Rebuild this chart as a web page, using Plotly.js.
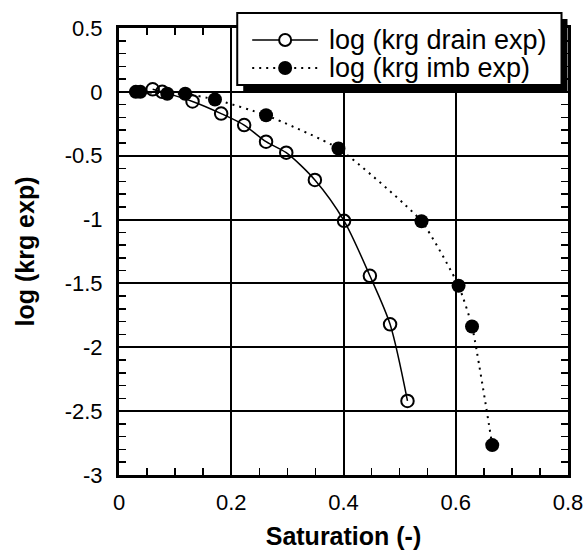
<!DOCTYPE html>
<html>
<head>
<meta charset="utf-8">
<script src="https://cdn.plot.ly/plotly-3.0.1.min.js"></script>
<style>html,body{margin:0;padding:0;background:#fff}#chart{width:585px;height:551px}</style>
</head>
<body>
<div id="chart"></div>
<script>
const drainSat = [0.060, 0.077, 0.131, 0.182, 0.223, 0.262, 0.298, 0.349, 0.401, 0.447, 0.483, 0.514];
const drainLog = [0.02, 0.0, -0.075, -0.17, -0.26, -0.39, -0.476, -0.69, -1.01, -1.44, -1.82, -2.42];
const imbSat = [0.030, 0.038, 0.086, 0.118, 0.171, 0.262, 0.391, 0.539, 0.605, 0.629, 0.665];
const imbLog = [0.0, 0.0, -0.015, -0.015, -0.06, -0.183, -0.444, -1.013, -1.518, -1.837, -2.766];
const seriesNames = ['log (krg drain exp)', 'log (krg imb exp)'];
const xTicks = [0, 0.2, 0.4, 0.6, 0.8];
const yTicks = [0.5, 0, -0.5, -1, -1.5, -2, -2.5, -3];

const FONT = 'Liberation Sans, Arial, sans-serif';
const M = {l: 118.5, r: 16.5, t: 28, b: 76};
const W = 585 - M.l - M.r, H = 551 - M.t - M.b;
const px = (v) => (v - M.l) / W;          // pixel x -> paper x
const py = (v) => (551 - M.b - v) / H;    // pixel y -> paper y

const drainStyle = {line: {color: '#000', width: 1.5}, marker: {symbol: 'circle-open', size: 12.5, color: '#000', line: {width: 2, color: '#000'}}};
const imbStyle = {line: {color: '#000', width: 2, dash: '2px,5px'}, marker: {symbol: 'circle', size: 14, color: '#000'}};

const traces = [
  {x: drainSat, y: drainLog, name: seriesNames[0], type: 'scatter', mode: 'lines+markers',
   line: Object.assign({shape: 'spline', smoothing: 0.8}, drainStyle.line), marker: drainStyle.marker},
  {x: imbSat, y: imbLog, name: seriesNames[1], type: 'scatter', mode: 'lines+markers',
   line: Object.assign({shape: 'spline', smoothing: 0.5}, imbStyle.line), marker: imbStyle.marker}
];

// manual legend (box with drop shadow, sample lines, symbols, labels)
const legRows = [40, 68];
const shapes = [
  {type: 'rect', xref: 'paper', yref: 'paper', layer: 'above', x0: px(243), x1: px(568), y0: py(91), y1: py(19), fillcolor: '#000', line: {width: 0}},
  {type: 'rect', xref: 'paper', yref: 'paper', layer: 'above', x0: px(237), x1: px(562), y0: py(85), y1: py(13), fillcolor: '#fff', line: {width: 2, color: '#000'}},
  {type: 'line', xref: 'paper', yref: 'paper', layer: 'above', x0: px(252), x1: px(318), y0: py(legRows[0]), y1: py(legRows[0]), line: drainStyle.line},
  {type: 'line', xref: 'paper', yref: 'paper', layer: 'above', x0: px(252), x1: px(318), y0: py(legRows[1]), y1: py(legRows[1]), line: imbStyle.line},
  {type: 'circle', xref: 'paper', yref: 'paper', layer: 'above', xsizemode: 'pixel', ysizemode: 'pixel',
   xanchor: px(285), yanchor: py(legRows[0]), x0: -6, x1: 6, y0: -6, y1: 6, fillcolor: '#fff', line: {width: 2, color: '#000'}},
  {type: 'circle', xref: 'paper', yref: 'paper', layer: 'above', xsizemode: 'pixel', ysizemode: 'pixel',
   xanchor: px(285), yanchor: py(legRows[1]), x0: -7, x1: 7, y0: -7, y1: 7, fillcolor: '#000', line: {width: 0}}
];
const annotations = seriesNames.map((s, i) => ({
  text: s, xref: 'paper', yref: 'paper', x: px(327), y: py(legRows[i]), xanchor: 'left', yanchor: 'middle',
  showarrow: false, font: {family: FONT, size: 27, color: '#000'}
}));

const axisCommon = {
  showline: true, linecolor: '#000', linewidth: 3, mirror: 'allticks',
  ticks: 'inside', ticklen: 10, tickwidth: 1.5, tickcolor: '#000',
  showgrid: true, gridcolor: '#000', gridwidth: 2, zeroline: false,
  tickfont: {family: FONT, size: 22, color: '#000'}
};

const layout = {
  width: 585, height: 551,
  margin: M,
  paper_bgcolor: '#fff', plot_bgcolor: '#fff',
  showlegend: false,
  shapes: shapes, annotations: annotations,
  xaxis: Object.assign({}, axisCommon, {
    range: [0, 0.8], tickvals: xTicks, ticktext: xTicks.map(String), ticklabelstandoff: 6,
    minor: {dtick: 0.05, tick0: 0, ticks: 'inside', ticklen: 7, tickwidth: 1.5, tickcolor: '#000', showgrid: false},
    title: {text: '<b>Saturation (-)</b>', font: {family: FONT, size: 25, color: '#000'}, standoff: 14}
  }),
  yaxis: Object.assign({}, axisCommon, {
    range: [-3, 0.5], tickvals: yTicks, ticktext: yTicks.map(String), ticklabelstandoff: 9,
    minor: {dtick: 0.1, tick0: 0, ticks: 'inside', ticklen: 7, tickwidth: 1.5, tickcolor: '#000', showgrid: false},
    title: {text: '<b>log (krg exp)</b>', font: {family: FONT, size: 25, color: '#000'}, standoff: 23}
  })
};

Plotly.newPlot('chart', traces, layout, {staticPlot: true});
</script>
</body>
</html>
